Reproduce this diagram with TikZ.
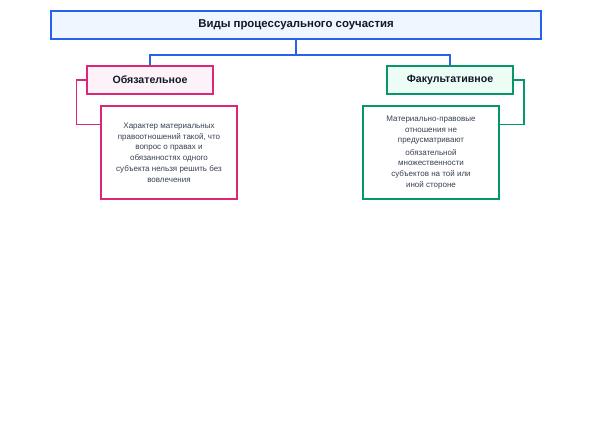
\documentclass[tikz,border=0pt]{standalone}
\usepackage{fontspec}
\setmainfont{Liberation Sans}
\usetikzlibrary{positioning}

\definecolor{kindblue}{HTML}{2563EB}
\definecolor{kindbluebg}{HTML}{EFF6FF}
\definecolor{kindpink}{HTML}{DB2777}
\definecolor{kindpinkbg}{HTML}{FDF2F8}
\definecolor{kindgreen}{HTML}{059669}
\definecolor{kindgreenbg}{HTML}{ECFDF5}
\definecolor{darktext}{HTML}{111827}
\definecolor{greytext}{HTML}{374151}

\tikzset{
  kindbox/.style={draw, line width=1.5pt, minimum height=28pt, text=darktext,
    font=\fontsize{10.6}{12}\selectfont\bfseries},
  detailbox/.style={draw, line width=1.3pt, fill=white, minimum width=136pt,
    minimum height=93pt, align=center, text=greytext,
    font=\fontsize{8}{10.8}\selectfont},
  link/.style={line width=1.5pt}
}

\begin{document}
\begin{tikzpicture}[x=1pt, y=-1pt]
\useasboundingbox (0,0) rectangle (599,420);

\node[kindbox, draw=kindblue, fill=kindbluebg, minimum width=490pt, font=\fontsize{11.4}{13}\selectfont\bfseries](title) at (296,25) {Виды процессуального соучастия};
\node[kindbox, draw=kindpink, fill=kindpinkbg, minimum width=126pt](oblig) at (150,80) {Обязательное};
\node[kindbox, draw=kindgreen, fill=kindgreenbg, minimum width=126pt](facult) at (450,80) {Факультативное};

\node[detailbox, draw=kindpink](obligtext) at (169,152.5) {Характер материальных\\правоотношений такой, что\\вопрос о правах и\\обязанностях одного\\субъекта нельзя решить без\\вовлечения};
\node[detailbox, draw=kindgreen](faculttext) at (431,152.5) {Материально-правовые\\отношения не\\предусматривают\\[1.5pt]обязательной\\множественности\\субъектов на той или\\иной стороне};

\coordinate (split) at (296,55);
\draw[link, kindblue] (title) -- (split) -| (oblig);
\draw[link, kindblue] (split) -| (facult);

\draw[link, kindpink] (oblig.west) -- ++(-10,0) |- ([yshift=-19pt]obligtext.north west);
\draw[link, kindgreen] (facult.east) -- ++(10,0) |- ([yshift=-19pt]faculttext.north east);
\end{tikzpicture}
\end{document}
